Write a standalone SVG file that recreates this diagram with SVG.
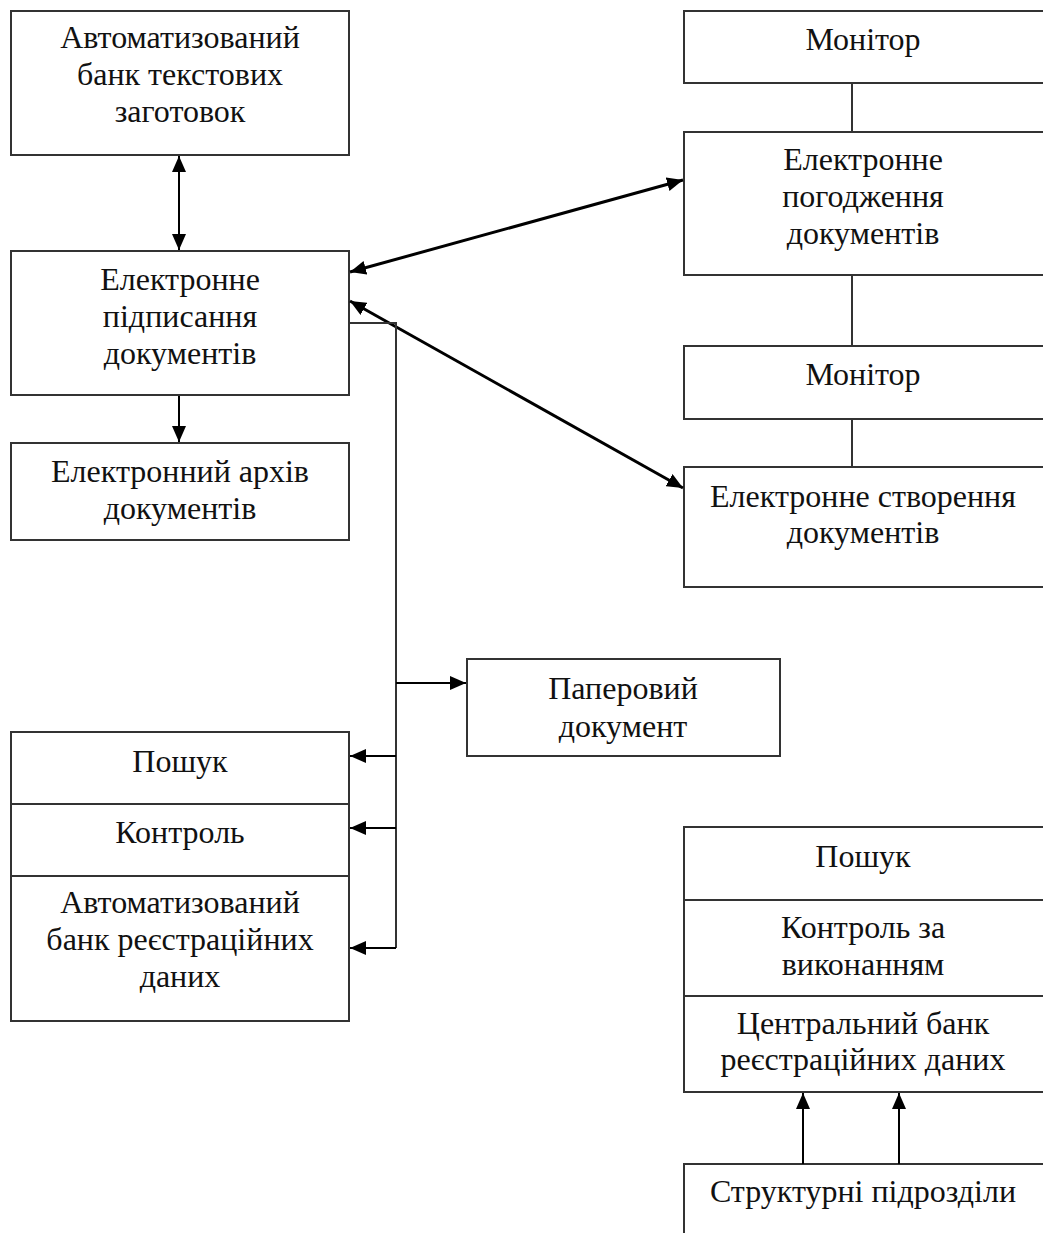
<svg xmlns="http://www.w3.org/2000/svg" width="1043" height="1233" viewBox="0 0 1043 1233">
<style>
.box{fill:#fff;stroke:#333;stroke-width:2}
.t{font-family:"Liberation Serif","Times New Roman",serif;font-size:32px;fill:#111;text-anchor:middle}
.c{fill:none;stroke:#000;stroke-width:2}
.d{fill:none;stroke:#000;stroke-width:3}
.p{fill:none;stroke:#333;stroke-width:2}
</style>
<defs>
<marker id="ah" markerUnits="userSpaceOnUse" markerWidth="16" markerHeight="14" viewBox="0 0 16 14" refX="16" refY="7" orient="auto-start-reverse">
<path d="M0,0 L16,7 L0,14 z" fill="#000"/>
</marker>
</defs>
<rect width="1043" height="1233" fill="#fff"/>

<g id="bank-text">
<rect class="box" x="11" y="11" width="338" height="144"/>
<text class="t" x="180" y="48">Автоматизований</text>
<text class="t" x="180" y="85">банк текстових</text>
<text class="t" x="180" y="122">заготовок</text>
</g>
<g id="sign">
<rect class="box" x="11" y="251" width="338" height="144"/>
<text class="t" x="180" y="290">Електронне</text>
<text class="t" x="180" y="327">підписання</text>
<text class="t" x="180" y="364">документів</text>
</g>
<g id="archive">
<rect class="box" x="11" y="443" width="338" height="97"/>
<text class="t" x="180" y="482">Електронний архів</text>
<text class="t" x="180" y="519">документів</text>
</g>
<g id="left-stack">
<rect class="box" x="11" y="732" width="338" height="289"/>
<line class="p" x1="11" y1="804" x2="349" y2="804"/>
<line class="p" x1="11" y1="876" x2="349" y2="876"/>
<text class="t" x="180" y="772">Пошук</text>
<text class="t" x="180" y="843">Контроль</text>
<text class="t" x="180" y="913">Автоматизований</text>
<text class="t" x="180" y="950">банк реєстраційних</text>
<text class="t" x="180" y="987">даних</text>
</g>
<g id="paper">
<rect class="box" x="467" y="659" width="313" height="97"/>
<text class="t" x="623" y="699">Паперовий</text>
<text class="t" x="623" y="737">документ</text>
</g>
<g id="monitor1">
<rect class="box" x="684" y="11" width="400" height="72"/>
<text class="t" x="863" y="50">Монітор</text>
</g>
<g id="approve">
<rect class="box" x="684" y="132" width="400" height="143"/>
<text class="t" x="863" y="170">Електронне</text>
<text class="t" x="863" y="207">погодження</text>
<text class="t" x="863" y="244">документів</text>
</g>
<g id="monitor2">
<rect class="box" x="684" y="346" width="400" height="73"/>
<text class="t" x="863" y="385">Монітор</text>
</g>
<g id="create">
<rect class="box" x="684" y="467" width="400" height="120"/>
<text class="t" x="863" y="507">Електронне створення</text>
<text class="t" x="863" y="543">документів</text>
</g>
<g id="right-stack">
<rect class="box" x="684" y="827" width="400" height="265"/>
<line class="p" x1="684" y1="900" x2="1043" y2="900"/>
<line class="p" x1="684" y1="996" x2="1043" y2="996"/>
<text class="t" x="863" y="867">Пошук</text>
<text class="t" x="863" y="938">Контроль за</text>
<text class="t" x="863" y="975">виконанням</text>
<text class="t" x="863" y="1034">Центральний банк</text>
<text class="t" x="863" y="1070">реєстраційних даних</text>
</g>
<g id="units">
<rect class="box" x="684" y="1164" width="400" height="100"/>
<text class="t" x="863" y="1202">Структурні підрозділи</text>
</g>

<g id="connectors">
<line class="c" x1="179" y1="156" x2="179" y2="250" marker-start="url(#ah)" marker-end="url(#ah)"/>
<line class="c" x1="179" y1="396" x2="179" y2="442" marker-end="url(#ah)"/>
<line class="d" x1="350" y1="272" x2="683" y2="180" marker-start="url(#ah)" marker-end="url(#ah)"/>
<line class="d" x1="350" y1="301" x2="683" y2="488" marker-start="url(#ah)" marker-end="url(#ah)"/>
<polyline class="p" points="349,323 396,323 396,948"/>
<line class="c" x1="396" y1="683" x2="466" y2="683" marker-end="url(#ah)"/>
<line class="c" x1="396" y1="756" x2="350" y2="756" marker-end="url(#ah)"/>
<line class="c" x1="396" y1="828" x2="350" y2="828" marker-end="url(#ah)"/>
<line class="c" x1="396" y1="948" x2="350" y2="948" marker-end="url(#ah)"/>
<line class="p" x1="852" y1="83" x2="852" y2="132"/>
<line class="p" x1="852" y1="275" x2="852" y2="346"/>
<line class="p" x1="852" y1="419" x2="852" y2="467"/>
<line class="c" x1="803" y1="1164" x2="803" y2="1093" marker-end="url(#ah)"/>
<line class="c" x1="899" y1="1164" x2="899" y2="1093" marker-end="url(#ah)"/>
</g>
</svg>
